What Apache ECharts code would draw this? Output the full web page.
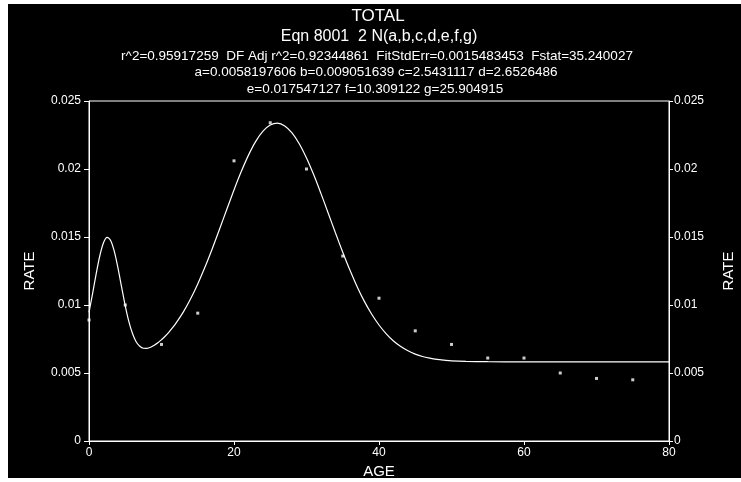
<!DOCTYPE html>
<html>
<head>
<meta charset="utf-8">
<script src="https://cdn.jsdelivr.net/npm/echarts@6/dist/echarts.min.js"></script>
<style>
  html, body { margin: 0; padding: 0; background: #ffffff; width: 741px; height: 482px; overflow: hidden; }
  #chart { position: absolute; left: 8px; top: 4px; width: 733px; height: 474px; background: #000000; }
</style>
</head>
<body>
<div id="chart"></div>
<script>
// ---- Data ----
const titleText = 'TOTAL';
const eqnText = 'Eqn 8001  2 N(a,b,c,d,e,f,g)';
const statsText = 'r^2=0.95917259  DF Adj r^2=0.92344861  FitStdErr=0.0015483453  Fstat=35.240027';
const paramText1 = 'a=0.0058197606 b=0.009051639 c=2.5431117 d=2.6526486';
const paramText2 = 'e=0.017547127 f=10.309122 g=25.904915';

// observed points
const pointAge  = [0, 5, 10, 15, 20, 25, 30, 35, 40, 45, 50, 55, 60, 65, 70, 75];
const pointRate = [0.0089, 0.0100, 0.0071, 0.0094, 0.0206, 0.0234, 0.0200, 0.0136, 0.0105, 0.0081, 0.0071, 0.0061, 0.0061, 0.0050, 0.0046, 0.0045];

// fitted curve
const curveAge = [0, 0.5, 1, 1.5, 2, 2.5, 3, 3.5, 4, 4.5, 5, 5.5, 6, 6.5, 7, 7.5, 8, 8.5, 9, 9.5, 10, 10.5, 11, 11.5, 12,
  13, 14, 15, 16, 17, 18, 19, 20, 21, 22, 23, 24, 25, 26, 27, 28, 29, 30, 31, 32, 33, 34, 35, 36, 37, 38, 39, 40,
  41, 42, 43, 44, 45, 46, 47, 48, 49, 50, 52, 55, 60, 65, 70, 75, 80];
const curveRate = [0.00946, 0.01086, 0.01232, 0.01364, 0.01458, 0.01497, 0.01473, 0.01392, 0.01271, 0.01131, 0.00994,
  0.00878, 0.00790, 0.00730, 0.00697, 0.00682, 0.00681, 0.00689, 0.00704, 0.00722, 0.00745, 0.00770, 0.00799, 0.00831, 0.00867,
  0.00948, 0.01044, 0.01155, 0.01279, 0.01414, 0.01557, 0.01702, 0.01846, 0.01981, 0.02102, 0.02203, 0.02278, 0.02323,
  0.02337, 0.02317, 0.02266, 0.02186, 0.02081, 0.01957, 0.01819, 0.01675, 0.01529, 0.01388, 0.01255, 0.01133, 0.01025,
  0.00932, 0.00853, 0.00788, 0.00735, 0.00694, 0.00663, 0.00639, 0.00621, 0.00609, 0.00600, 0.00594, 0.00589, 0.00585,
  0.00583, 0.00582, 0.00582, 0.00582, 0.00582, 0.00582];

const xMin = 0, xMax = 80, xStep = 20;
const yMin = 0, yMax = 0.025, yStep = 0.005;

// ---- Chart ----
const chart = echarts.init(document.getElementById('chart'));
const font = 'Liberation Sans, Arial, sans-serif';
const white = '#ffffff';

function pairs(xs, ys) { return xs.map((x, i) => [x, ys[i]]); }

const yAxisBase = {
  type: 'value', min: yMin, max: yMax, interval: yStep,
  name: 'RATE', nameLocation: 'middle',
  nameTextStyle: { color: white, fontSize: 15, fontFamily: font },
  axisLine: { show: true, lineStyle: { color: white, width: 1 } },
  axisTick: { show: true, length: 5, lineStyle: { color: white } },
  splitLine: { show: false },
  axisLabel: { color: white, fontSize: 12, fontFamily: font }
};

chart.setOption({
  backgroundColor: '#000000',
  animation: false,
  graphic: [
    { type: 'text', x: 370, y: 12, style: { text: titleText, fill: white, font: '17px ' + font, textAlign: 'center', textVerticalAlign: 'middle' } },
    { type: 'text', x: 371, y: 33, style: { text: eqnText, fill: white, font: '16px ' + font, textAlign: 'center', textVerticalAlign: 'middle' } },
    { type: 'text', x: 369, y: 52, style: { text: statsText, fill: white, font: '13.5px ' + font, textAlign: 'center', textVerticalAlign: 'middle' } },
    { type: 'text', x: 368, y: 68, style: { text: paramText1, fill: white, font: '13.5px ' + font, textAlign: 'center', textVerticalAlign: 'middle' } },
    { type: 'text', x: 367, y: 85, style: { text: paramText2, fill: white, font: '13.5px ' + font, textAlign: 'center', textVerticalAlign: 'middle' } }
  ],
  grid: {
    left: 81, right: 72, top: 97, bottom: 37,
    containLabel: false, outerBoundsMode: 'none',
    show: true, borderColor: white, borderWidth: 1, backgroundColor: 'transparent'
  },
  xAxis: {
    type: 'value', min: xMin, max: xMax, interval: xStep,
    name: 'AGE', nameLocation: 'middle', nameGap: 20,
    nameTextStyle: { color: white, fontSize: 15, fontFamily: font },
    axisLine: { show: true, lineStyle: { color: white, width: 1 } },
    axisTick: { show: true, length: 4, lineStyle: { color: white } },
    splitLine: { show: false },
    axisLabel: { color: white, fontSize: 12, fontFamily: font, margin: 6 }
  },
  yAxis: [
    Object.assign({}, yAxisBase, { position: 'left', nameGap: 52, axisLabel: Object.assign({}, yAxisBase.axisLabel, { margin: 8 }) }),
    Object.assign({}, yAxisBase, { position: 'right', nameGap: 52, nameRotate: 90, axisTick: { show: true, length: 4, lineStyle: { color: white } }, axisLabel: Object.assign({}, yAxisBase.axisLabel, { margin: 5 }) })
  ],
  series: [
    {
      type: 'line', data: pairs(curveAge, curveRate), smooth: 0.3, showSymbol: false, symbol: 'none',
      lineStyle: { color: white, width: 1.2 }, yAxisIndex: 0
    },
    {
      type: 'scatter', data: pairs(pointAge, pointRate), symbol: 'rect', symbolSize: 3,
      itemStyle: { color: white }, yAxisIndex: 0
    }
  ]
});
</script>
</body>
</html>
